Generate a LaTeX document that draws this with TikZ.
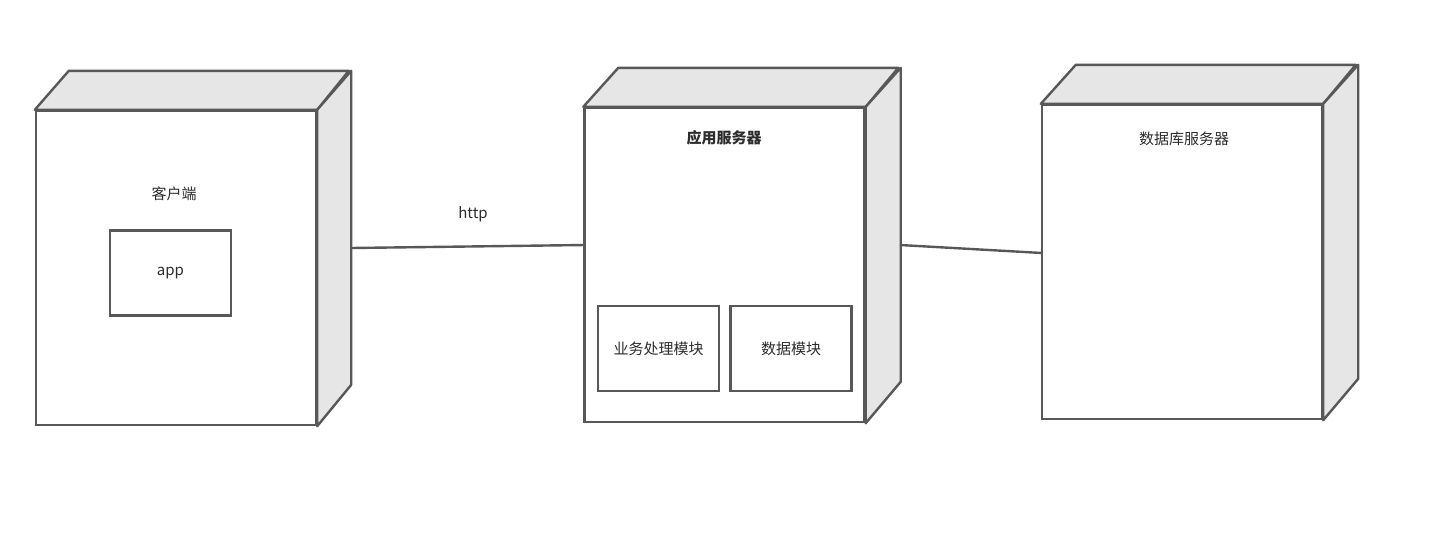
\documentclass[tikz,border=0pt]{standalone}
\usepackage{fontspec}
\setmainfont{Noto Sans CJK SC}
\usetikzlibrary{positioning}
\definecolor{linha}{RGB}{88,88,88}
\definecolor{face}{RGB}{230,230,230}
\definecolor{texto}{RGB}{45,45,45}
\tikzset{
	frente/.style={draw=linha, line width=2.4pt, fill=white, minimum width=280pt, minimum height=314pt, inner sep=0pt},
	lado/.style={draw=linha, line width=2.4pt, fill=face, line join=round},
	modulo/.style={draw=linha, line width=2.4pt, minimum width=121pt, minimum height=85pt, inner sep=0pt, text=texto, font=\fontsize{15}{18}\selectfont},
	rotulo/.style={text=texto, font=\fontsize{15}{18}\selectfont},
	ligacao/.style={draw=linha, line width=2.4pt},
}
\begin{document}
\begin{tikzpicture}[x=1pt, y=-1pt]
	\useasboundingbox (0,0) rectangle (1450,536);
	
	% Nos (faces frontais)
	\node[frente] (cliente) at (176,268) {};							% Cliente
	\node[frente] (appsrv)  at (724.5,265) {};							% Servidor de aplicacao
	\node[frente] (dbsrv)   at (1182,262) {};							% Servidor de dados
	
	% Faces superior e lateral
	\draw[lado] (cliente.north west) -- ++(34,-39) -- ++(280,0) -- (cliente.north east) -- cycle;
	\draw[lado] (cliente.north east) -- ++(34,-39) -- ++(0,314) -- (cliente.south east) -- cycle;
	\draw[lado] (appsrv.north west) -- ++(35,-39) -- ++(280,0) -- (appsrv.north east) -- cycle;
	\draw[lado] (appsrv.north east) -- ++(35,-39) -- ++(0,314) -- (appsrv.south east) -- cycle;
	\draw[lado] (dbsrv.north west) -- ++(35,-39) -- ++(280,0) -- (dbsrv.north east) -- cycle;
	\draw[lado] (dbsrv.north east) -- ++(35,-39) -- ++(0,314) -- (dbsrv.south east) -- cycle;
	
	% Rotulos
	\node[rotulo] (tcliente) at (174,194) {客户端};
	\node[rotulo, font=\fontsize{15}{18}\selectfont\bfseries] (tapp) at (724,138) {应用服务器};
	\node[rotulo] (tdb) at (1184,139) {数据库服务器};
	
	% Componentes
	\node[modulo] (app)     at (170.5,273) {app};
	\node[modulo] (negocio) at (658.5,348.5) {业务处理模块};
	\node[modulo] (dados)   at (791,348.5) {数据模块};
	
	% Ligacoes
	\coordinate (c1) at (351,248);
	\coordinate (a1) at (585,245);
	\coordinate (a2) at (900,245);
	\coordinate (d1) at (1042,253);
	\draw[ligacao] (c1) -- (a1);
	\draw[ligacao] (a2) -- (d1);
	\node[rotulo] (http) at (473,214) {http};
\end{tikzpicture}
\end{document}
